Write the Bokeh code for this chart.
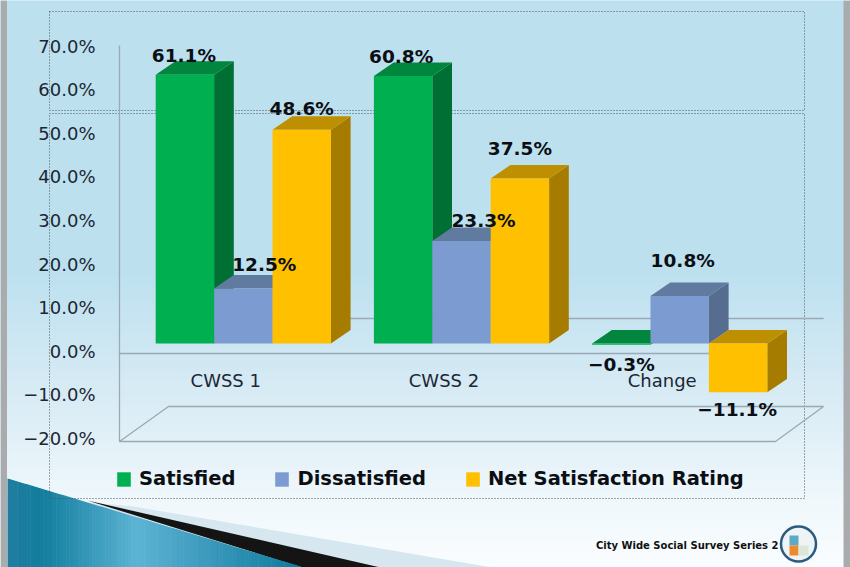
from bokeh.plotting import figure
from bokeh.embed import file_html
from bokeh.resources import INLINE
from bokeh.models import Range1d, LinearAxis, FixedTicker, Legend, LegendItem, ColumnDataSource
from bokeh.core.properties import value

# ---- data -------------------------------------------------------------
categories = ["CWSS 1", "CWSS 2", "Change"]
satisfied = [61.1, 60.8, -0.3]
dissatisfied = [12.5, 23.3, 10.8]
net_rating = [48.6, 37.5, -11.1]
series_names = ["Satisfied", "Dissatisfied", "Net Satisfaction Rating"]
y_ticks = [-20, -10, 0, 10, 20, 30, 40, 50, 60, 70]
y_labels = ["\u221220.0%", "\u221210.0%", "0.0%", "10.0%", "20.0%", "30.0%", "40.0%", "50.0%", "60.0%", "70.0%"]
footer = "City Wide Social Survey Series 2"

# ---- styles ------------------------------------------------------------
front_colors = ["#00B050", "#7C9BD0", "#FFC000"]
side_colors = ["#006F33", "#566D90", "#A67C00"]
top_colors = ["#00873D", "#617BA0", "#BE8F00"]
# label placement relative to the front top of each bar, in px
label_dx = [[-1, -2, 0], [21, 22, 3], [0, 0, -1]]
label_dy = [[-19, -19, 20], [-24, -20, -35], [-21, -30, 17]]
series = [satisfied, dissatisfied, net_rating]

FONT = "DejaVu Sans"
W, H = 850, 567
PX_L, PX_T = 0, 0            # reference px shown at the frame's top-left
GROUP_PX, BAR_PX = 218.2, 58.4
X0_PX, Y0_PX, Y_PX = 242.8, 343.0, 4.4   # group 0 centre, zero level, px per %
DX, DY = 19.7 / GROUP_PX, 13.4 / Y_PX    # 3-D depth in data units
BW = BAR_PX / GROUP_PX

x_start = (PX_L - X0_PX) / GROUP_PX
x_end = (PX_L + W - X0_PX) / GROUP_PX
y_start = (Y0_PX - (PX_T + H)) / Y_PX
y_end = (Y0_PX - PX_T) / Y_PX

p = figure(width=W, height=H, output_backend="svg", toolbar_location=None,
           x_range=Range1d(x_start, x_end), y_range=Range1d(y_start, y_end),
           min_border=0, outline_line_color=None, x_axis_type=None, y_axis_type=None)
p.grid.visible = False
p.background_fill_color = "#BDE0EF"
p.border_fill_color = "#BDE0EF"

# slide-space range for the decoration
p.extra_x_ranges["px"] = Range1d(PX_L, PX_L + W)
p.extra_y_ranges["px"] = Range1d(PX_T + H, PX_T)
# tick label scale (labels are spaced slightly tighter than the bars)
TICK_PX = (438 - 45.5) / 90
p.extra_y_ranges["tick"] = Range1d(70 - (PX_T + H - 45.5) / TICK_PX, 70 + (45.5 - PX_T) / TICK_PX)
p.extra_x_ranges["cat"] = Range1d(x_start + 0.0803, x_end + 0.0803)
PX = dict(x_range_name="px", y_range_name="px")

def lerp(c1, c2, t):
    return "#%02X%02X%02X" % tuple(round(a + (b - a) * t) for a, b in zip(c1, c2))

# background gradient
ys = list(range(PX_T, PX_T + H, 6))
def bg(y):
    stops = [(0, (189, 224, 239)), (270, (189, 224, 239)), (400, (218, 236, 245)), (500, (240, 248, 252)), (567, (250, 253, 254))]
    for (a, ca), (b, cb) in zip(stops, stops[1:]):
        if y <= b:
            return lerp(ca, cb, (y - a) / (b - a))
    return lerp(stops[-1][1], stops[-1][1], 0)
p.quad(left=PX_L, right=PX_L + W, top=ys, bottom=[y + 6.5 for y in ys],
       fill_color=[bg(y) for y in ys], line_color=None, **PX)

# slide decoration, bottom band and wedge
p.patch([133, 492, 7, 7], [506, 567, 567, 495], fill_color="#D6E7EF", line_color=None, **PX)
p.patch([87, 380, 300], [500, 567, 566.5], fill_color="#141414", line_color=None, **PX)
n = 90
xe = [7 + i * (300 - 7) / n for i in range(n + 1)]
edge = [478 + (x - 7) * 88 / 293 for x in xe]
def teal(x):
    stops = [(7, (32, 125, 160)), (40, (18, 125, 158)), (135, (92, 180, 212)), (185, (70, 160, 195)), (290, (16, 125, 160)), (301, (16, 125, 160))]
    for (a, ca), (b, cb) in zip(stops, stops[1:]):
        if x <= b:
            return lerp(ca, cb, (x - a) / (b - a))
p.patches([[xe[i], xe[i + 1] + 0.5, xe[i + 1] + 0.5, xe[i]] for i in range(n)],
          [[edge[i], edge[i + 1], 567, 567] for i in range(n)],
          fill_color=[teal(xe[i]) for i in range(n)], line_color=None, **PX)
# grey slide edges
p.quad(left=[0, 843], right=[6.5, 850], top=[0, 0], bottom=[567, 567],
       fill_color="#A9ABAC", line_color=None, **PX)

# dotted placeholder boxes
for top, bottom in ((11, 110), (113, 498)):
    p.line([49, 804, 804, 49, 49], [top, top, bottom, bottom, top], line_color="#4A5458",
           line_width=1, line_dash="1 2", **PX)

# chart walls and floor
WALL = "#9AA9B3"
p.line([119, 119, 775, 823, 168, 119], [45, 441, 441, 406, 406, 441], line_color=WALL, line_width=1.3, **PX)
p.line([119, 775], [353, 353], line_color=WALL, line_width=1.3, **PX)
p.line([168, 823], [318, 318], line_color=WALL, line_width=1.3, **PX)

# bars
group_x = list(range(len(categories)))
legend_items = []
for s, vals in enumerate(series):
    off = (s - 1) * BW
    cx = [g + off for g in group_x]
    hi = [max(v, 0) for v in vals]
    lo = [min(v, 0) for v in vals]
    p.patches([[c + BW / 2, c + BW / 2 + DX, c + BW / 2 + DX, c + BW / 2] for c in cx],
              [[h, h + DY, l + DY, l] for h, l in zip(hi, lo)],
              fill_color=side_colors[s], line_color=None)
    p.patches([[c - BW / 2, c - BW / 2 + DX, c + BW / 2 + DX, c + BW / 2] for c in cx],
              [[h, h + DY, h + DY, h] for h in hi],
              fill_color=top_colors[s], line_color=None)
    r = p.vbar(x=cx, width=BW, bottom=lo, top=hi, fill_color=front_colors[s], line_color=None)
    legend_items.append(LegendItem(label=series_names[s], renderers=[r]))

# value labels
for s, vals in enumerate(series):
    off = (s - 1) * BW
    src = ColumnDataSource(dict(
        x=[g + off for g in group_x], y=vals,
        t=[("\u2212%.1f%%" % -v) if v < 0 else ("%.1f%%" % v) for v in vals],
        dx=[label_dx[s][g] for g in group_x],
        dy=[label_dy[s][g] for g in group_x]))
    p.text(x="x", y="y", text="t", x_offset="dx", y_offset="dy", source=src, text_align="center",
           text_baseline="middle", text_font=value(FONT), text_font_style="bold",
           text_font_size="18.5px", text_color="#0B0F14")

# axes
yax = LinearAxis(y_range_name="tick", x_range_name="px", fixed_location=95,
                 ticker=FixedTicker(ticks=y_ticks),
                 major_label_overrides=dict(zip(y_ticks, y_labels)),
                 axis_line_color=None, major_tick_line_color=None, minor_tick_line_color=None,
                 major_label_standoff=0, major_tick_out=0, major_tick_in=0,
                 major_label_text_font=FONT, major_label_text_font_size="18px",
                 major_label_text_color="#1B2733")
p.add_layout(yax, "left")
xax = LinearAxis(x_range_name="cat", y_range_name="px", fixed_location=369,
                 ticker=FixedTicker(ticks=group_x),
                 major_label_overrides=dict(zip(group_x, categories)),
                 axis_line_color=None, major_tick_line_color=None, minor_tick_line_color=None,
                 major_label_standoff=0, major_tick_out=0, major_tick_in=0,
                 major_label_text_font=FONT, major_label_text_font_size="18px",
                 major_label_text_color="#1B2733")
p.add_layout(xax, "below")

# legend
legend = Legend(items=legend_items, orientation="horizontal", location=(115, 77),
                background_fill_alpha=0, border_line_color=None, padding=0, margin=0,
                spacing=38, glyph_width=17, glyph_height=18, label_standoff=7,
                label_text_font=FONT, label_text_font_style="bold", label_text_font_size="19.5px",
                label_text_color="#0B0F14")
p.add_layout(legend, "center")

# footer and seal
p.text(x=[778], y=[545], text=[footer], text_align="right", text_baseline="middle",
       text_font=value(FONT), text_font_style="bold", text_font_size="10px", text_color="#111111", **PX)
p.scatter([798], [543.5], size=35, marker="circle", fill_color="#EEF4F6", line_color="#2B5C80", line_width=2.5, **PX)
p.quad(left=[789, 789, 798], right=[798, 798, 808], top=[535, 545, 545], bottom=[545, 555, 555],
       fill_color=["#5DA9C8", "#EE8A2E", "#DDE7D8"], line_color=None, **PX)

open("out.html", "w").write(file_html(p, INLINE))
